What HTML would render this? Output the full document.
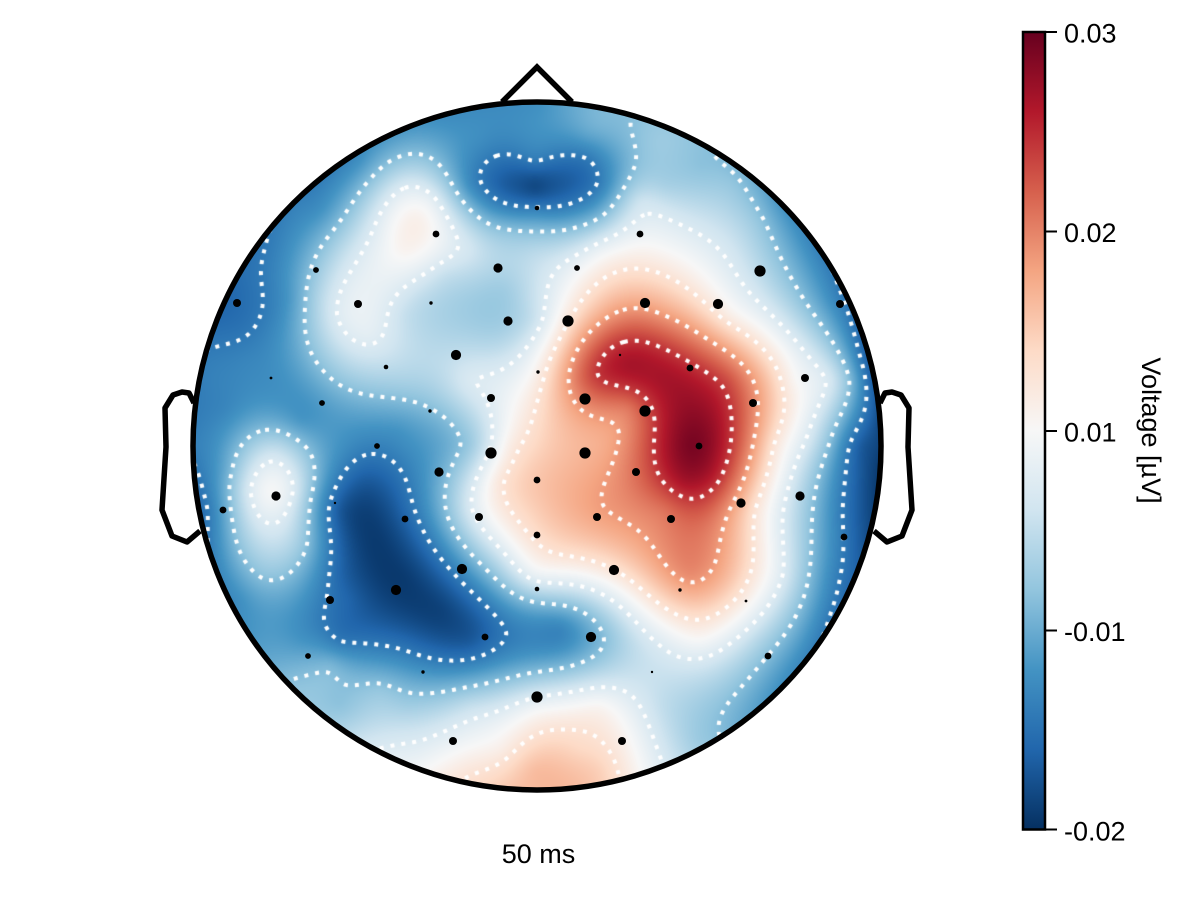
<!DOCTYPE html>
<html>
<head>
<meta charset="utf-8">
<style>
html,body{margin:0;padding:0;background:#fff;}
#wrap{position:relative;width:1200px;height:900px;overflow:hidden;background:#fff;}
#wrap svg,#wrap canvas{position:absolute;left:0;top:0;}
text{font-family:"Liberation Sans",Arial,sans-serif;fill:#000;}
</style>
</head>
<body>
<div id="wrap">
<svg width="1200" height="900" viewBox="0 0 1200 900" style="z-index:0">
  <defs>
    <filter id="bl" x="-50%" y="-50%" width="200%" height="200%"><feGaussianBlur stdDeviation="28"/></filter>
    <clipPath id="hc"><circle cx="537" cy="446" r="344"/></clipPath>
  </defs>
  <g clip-path="url(#hc)">
    <rect x="180" y="90" width="720" height="720" fill="#4a90c4"/>
    <g filter="url(#bl)">
      <ellipse cx="580" cy="450" rx="210" ry="190" fill="#e4edf2"/>
      <ellipse cx="650" cy="430" rx="120" ry="150" fill="#f4a582"/>
      <ellipse cx="675" cy="420" rx="60" ry="80" fill="#b2182b"/>
      <ellipse cx="400" cy="570" rx="60" ry="70" fill="#0b3b75"/>
      <ellipse cx="535" cy="187" rx="55" ry="20" fill="#0b3b75"/>
      <ellipse cx="410" cy="250" rx="55" ry="80" fill="#f3f3f3"/>
      <ellipse cx="275" cy="500" rx="30" ry="50" fill="#e0ecf3"/>
      <ellipse cx="537" cy="790" rx="90" ry="60" fill="#f4b599"/>
      <ellipse cx="885" cy="446" rx="30" ry="150" fill="#0b3b75"/>
    </g>
  </g>
</svg>
<canvas id="c" width="1200" height="900" style="z-index:1"></canvas>
<svg width="1200" height="900" viewBox="0 0 1200 900" style="z-index:2">
  <defs>
    <linearGradient id="cb" x1="0" y1="1" x2="0" y2="0">
      <stop offset="0" stop-color="#053061"/>
      <stop offset="0.1" stop-color="#2166ac"/>
      <stop offset="0.2" stop-color="#4393c3"/>
      <stop offset="0.3" stop-color="#92c5de"/>
      <stop offset="0.4" stop-color="#d1e5f0"/>
      <stop offset="0.5" stop-color="#f7f7f7"/>
      <stop offset="0.6" stop-color="#fddbc7"/>
      <stop offset="0.7" stop-color="#f4a582"/>
      <stop offset="0.8" stop-color="#d6604d"/>
      <stop offset="0.9" stop-color="#b2182b"/>
      <stop offset="1" stop-color="#67001f"/>
    </linearGradient>
  </defs>
  <!-- electrodes -->
  <g fill="#000">
    <circle cx="385" cy="137" r="2.1"/><circle cx="690" cy="138" r="2.3"/><circle cx="537" cy="208" r="2.3"/>
    <circle cx="436" cy="234" r="3.4"/><circle cx="640" cy="234" r="3.4"/><circle cx="316" cy="270" r="2.9"/>
    <circle cx="498" cy="268" r="4.6"/><circle cx="577" cy="268" r="2.9"/><circle cx="760" cy="271" r="5.6"/>
    <circle cx="237" cy="303" r="4"/><circle cx="358" cy="304" r="4"/><circle cx="431" cy="303" r="1.7"/>
    <circle cx="645" cy="303" r="5.1"/><circle cx="718" cy="304" r="5.1"/><circle cx="840" cy="304" r="4"/>
    <circle cx="508" cy="321" r="4.6"/><circle cx="568" cy="321" r="5.6"/><circle cx="456" cy="355" r="5.1"/>
    <circle cx="620" cy="355" r="1.2"/><circle cx="386" cy="367" r="2.3"/><circle cx="538" cy="372" r="1.7"/>
    <circle cx="690" cy="368" r="3.4"/><circle cx="271" cy="378" r="1.4"/><circle cx="805" cy="378" r="4"/>
    <circle cx="322" cy="403" r="2.9"/><circle cx="491" cy="398" r="4"/><circle cx="585" cy="399" r="5.6"/>
    <circle cx="645" cy="411" r="5.6"/><circle cx="753" cy="403" r="4"/><circle cx="430" cy="411" r="1.7"/>
    <circle cx="377" cy="446" r="2.9"/><circle cx="491" cy="453" r="5.6"/><circle cx="585" cy="453" r="5.6"/>
    <circle cx="699" cy="446" r="3.4"/><circle cx="439" cy="472" r="4.6"/><circle cx="636" cy="472" r="4"/>
    <circle cx="537" cy="480" r="3.4"/><circle cx="276" cy="496" r="4.6"/><circle cx="223" cy="510" r="3.4"/>
    <circle cx="335" cy="503" r="1.2"/><circle cx="800" cy="496" r="4.6"/><circle cx="741" cy="503" r="4.6"/>
    <circle cx="405" cy="519" r="3.4"/><circle cx="479" cy="517" r="4"/><circle cx="597" cy="517" r="4"/>
    <circle cx="671" cy="519" r="4"/><circle cx="844" cy="537" r="3.4"/><circle cx="537" cy="535" r="3.4"/>
    <circle cx="462" cy="569" r="5.1"/><circle cx="614" cy="570" r="5.1"/><circle cx="396" cy="590" r="5.1"/>
    <circle cx="330" cy="600" r="4"/><circle cx="537" cy="589" r="2.3"/><circle cx="680" cy="590" r="1.7"/>
    <circle cx="746" cy="601" r="1.4"/><circle cx="485" cy="637" r="3.4"/><circle cx="591" cy="637" r="5.1"/>
    <circle cx="308" cy="656" r="2.9"/><circle cx="768" cy="656" r="3.4"/><circle cx="423" cy="672" r="1.7"/>
    <circle cx="652" cy="672" r="1.2"/><circle cx="537" cy="697" r="5.6"/><circle cx="453" cy="741" r="4"/>
    <circle cx="622" cy="741" r="4"/>
  </g>
  <!-- head outline -->
  <g fill="none" stroke="#000" stroke-width="5.5" stroke-linejoin="round">
    <circle cx="537" cy="446" r="344"/>
    <polyline points="502,102 537,67 572,102" stroke-linejoin="miter"/>
    <polyline points="200,531 187,542 172,536 162,510 166,447 165,408 173,395 182,392 189,393 194,403"/>
    <polyline points="874,531 887,542 902,536 912,510 908,447 909,408 901,395 892,392 885,393 880,403"/>
  </g>
  <text x="538.5" y="863" font-size="27" text-anchor="middle">50 ms</text>
  <!-- colorbar -->
  <rect x="1023" y="32" width="22" height="797.5" fill="url(#cb)" stroke="#000" stroke-width="2.5"/>
  <g stroke="#000" stroke-width="2">
    <line x1="1046" y1="32" x2="1057" y2="32"/>
    <line x1="1046" y1="231.5" x2="1057" y2="231.5"/>
    <line x1="1046" y1="431" x2="1057" y2="431"/>
    <line x1="1046" y1="630.5" x2="1057" y2="630.5"/>
    <line x1="1046" y1="829.5" x2="1057" y2="829.5"/>
  </g>
  <g font-size="27">
    <text x="1064" y="42.5">0.03</text>
    <text x="1064" y="242">0.02</text>
    <text x="1064" y="441.5">0.01</text>
    <text x="1064" y="641">-0.01</text>
    <text x="1064" y="840.5">-0.02</text>
  </g>
  <text transform="translate(1142,430.5) rotate(90)" font-size="27" text-anchor="middle">Voltage [µV]</text>
</svg>
</div>
<script>
(function(){
try{
var P=[
[537,102,.19],[626,114,.28],[709,148,.29],[780,203,.2],[835,274,.14],[869,357,.07],[881,446,.04],[869,535,.05],[835,618,.12],[780,689,.19],[709,744,.31],[626,778,.55],[537,790,.66],[448,778,.55],[365,744,.41],[294,689,.3],[239,618,.19],[205,535,.13],[193,446,.16],[205,357,.15],[239,274,.12],[294,203,.16],[365,148,.19],[448,114,.18],
[470,122,.19],[535,122,.2],[600,124,.27],[480,140,.19],[587,134,.24],[660,142,.32],[700,165,.29],[587,158,.14],[535,160,.16],
[535,187,.03],[505,186,.08],[565,186,.08],[535,213,.19],[490,212,.22],
[470,185,.18],[600,185,.15],[665,185,.33],[730,185,.31],
[340,185,.2],[405,185,.42],[360,160,.19],[400,163,.31],[320,210,.19],
[430,200,.46],[417,220,.53],[380,240,.46],[450,240,.45],[370,335,.45],
[275,250,.16],[340,250,.36],[405,250,.52],[470,250,.41],[535,250,.36],[600,250,.47],[665,250,.5],[730,250,.41],[795,250,.23],[760,220,.3],[640,200,.4],[600,215,.27],[510,230,.29],
[275,315,.17],[290,300,.21],[320,300,.36],[340,315,.44],[350,290,.45],[405,315,.38],[420,300,.37],[445,275,.38],[470,315,.32],[505,290,.32],[500,330,.33],[490,350,.37],[530,300,.38],[535,320,.39],[600,315,.68],[665,315,.71],[730,315,.53],[760,300,.42],[800,300,.3],[830,300,.19],[850,300,.12],[225,300,.1],[240,330,.13],[245,360,.17],
[210,380,.16],[250,380,.18],[275,380,.19],[300,420,.2],[340,380,.3],[405,380,.34],[440,380,.36],[470,380,.43],[535,380,.53],[580,380,.78],[600,375,.87],[665,380,.92],[730,380,.82],[770,380,.63],[795,380,.5],[830,380,.42],[852,380,.27],[870,380,.1],[400,430,.2],[440,420,.27],
[692,445,.98],[695,400,.93],[642,420,.8],[650,445,.84],[618,432,.71],[628,408,.76],[630,365,.92],[615,352,.88],[715,480,.88],[685,482,.92],
[210,445,.18],[225,410,.17],[280,440,.33],[340,445,.2],[405,445,.19],[470,445,.31],[490,445,.42],[510,445,.54],[535,445,.6],[600,445,.68],[730,445,.86],[755,445,.7],[775,445,.56],[810,445,.4],[830,445,.28],[848,445,.15],[862,445,.07],
[272,492,.5],[247,490,.41],[297,490,.41],[272,455,.41],[278,530,.41],[232,500,.3],[312,500,.27],[305,545,.3],[265,575,.3],[245,545,.32],[225,470,.24],
[500,480,.56],
[210,510,.15],[340,510,.07],[405,510,.11],[470,510,.42],[535,510,.62],[600,510,.71],[665,510,.77],[730,510,.71],[755,510,.57],[783,510,.43],[812,510,.29],[843,510,.14],[868,510,.05],
[380,540,.02],[365,480,.08],[440,610,.03],[350,600,.1],
[240,600,.19],[340,575,.1],[405,575,.02],[470,575,.2],[500,560,.38],[535,575,.47],[600,575,.52],[665,575,.69],[690,575,.74],[730,575,.65],[750,575,.57],[783,575,.43],[808,575,.29],[835,575,.16],[855,575,.1],
[275,640,.22],[300,640,.2],[340,640,.13],[405,640,.11],[470,640,.07],[535,640,.17],[560,630,.16],[600,640,.27],[665,640,.45],[700,640,.5],[730,640,.44],[760,640,.35],[800,640,.22],
[330,665,.28],[340,705,.29],[380,690,.31],[405,705,.32],[470,705,.38],[535,705,.47],[600,705,.51],[665,705,.37],[730,705,.28],[700,740,.31],
[470,770,.56],[535,770,.66],[600,770,.62],[537,730,.56],[500,750,.53],[580,750,.6],[420,760,.47],[400,740,.42]
];
var n=P.length,N=n+3,S=100,LAM=0.02;
var X=new Float64Array(n),Y=new Float64Array(n);
for(var i=0;i<n;i++){X[i]=P[i][0]/S;Y[i]=P[i][1]/S;}
function U(d2){return d2>1e-12?0.5*d2*Math.log(d2):0;}
var A=[];
for(i=0;i<N;i++)A.push(new Float64Array(N+1));
for(i=0;i<n;i++){
  for(var j=0;j<n;j++){var dx=X[i]-X[j],dy=Y[i]-Y[j];A[i][j]=U(dx*dx+dy*dy);}
  A[i][i]+=LAM;
  A[i][n]=1;A[i][n+1]=X[i];A[i][n+2]=Y[i];
  A[n][i]=1;A[n+1][i]=X[i];A[n+2][i]=Y[i];
  A[i][N]=P[i][2];
}
for(var c=0;c<N;c++){
  var p=c;
  for(var r=c+1;r<N;r++)if(Math.abs(A[r][c])>Math.abs(A[p][c]))p=r;
  var t=A[c];A[c]=A[p];A[p]=t;
  var pv=A[c][c];
  for(r=0;r<N;r++){
    if(r===c)continue;
    var f=A[r][c]/pv;if(f===0)continue;
    var Ar=A[r],Ac=A[c];
    for(var k=c;k<=N;k++)Ar[k]-=f*Ac[k];
  }
}
var w=new Float64Array(N);
for(i=0;i<N;i++)w[i]=A[i][N]/A[i][i];
function F(x,y){x/=S;y/=S;var s=w[n]+w[n+1]*x+w[n+2]*y;for(var i=0;i<n;i++){var dx=x-X[i],dy=y-Y[i];s+=w[i]*U(dx*dx+dy*dy);}return s;}

var CX=537,CY=446,R=344;
var s=2,x0=189,y0=98,W=351,H=351;
var V=new Float64Array(W*H);
for(j=0;j<H;j++)for(i=0;i<W;i++){
  var x=x0+i*s,y=y0+j*s,ddx=x-CX,ddy=y-CY;
  if(ddx*ddx+ddy*ddy>362*362){V[j*W+i]=0.3;continue;}
  V[j*W+i]=F(x,y);
}
var stops=[[5,48,97],[33,102,172],[67,147,195],[146,197,222],[209,229,240],[247,247,247],[253,219,199],[244,165,130],[214,96,77],[178,24,43],[103,0,31]];
function cmap(v){
  v=Math.max(0,Math.min(1,v))*10;var i=Math.min(9,Math.floor(v)),t=v-i,a=stops[i],b=stops[i+1];
  return [a[0]+(b[0]-a[0])*t,a[1]+(b[1]-a[1])*t,a[2]+(b[2]-a[2])*t];
}
var cv=document.getElementById('c'),ctx=cv.getContext('2d');
var bx=190,by=99,bw=695,bh=695;
var img=ctx.createImageData(bw,bh),d=img.data;
for(var py=0;py<bh;py++)for(var px=0;px<bw;px++){
  var xx=bx+px+0.5,yy=by+py+0.5;
  var dd=Math.sqrt((xx-CX)*(xx-CX)+(yy-CY)*(yy-CY));
  var al=R+0.5-dd;if(al<=0)continue;
  var gx=(xx-x0)/s,gy=(yy-y0)/s,ii=Math.floor(gx),jj=Math.floor(gy),fx=gx-ii,fy=gy-jj;
  var o0=jj*W+ii;
  var v=(V[o0]*(1-fx)+V[o0+1]*fx)*(1-fy)+(V[o0+W]*(1-fx)+V[o0+W+1]*fx)*fy;
  var col=cmap(v),o=(py*bw+px)*4;
  d[o]=col[0];d[o+1]=col[1];d[o+2]=col[2];d[o+3]=Math.min(1,al)*255;
}
ctx.putImageData(img,bx,by);

function contour(L){
  var segs=[],pt=new Map();
  function hk(i,j){var k=(j*W+i)*2;if(!pt.has(k)){var a=V[j*W+i],b=V[j*W+i+1],t=(L-a)/(b-a);pt.set(k,[x0+(i+t)*s,y0+j*s]);}return k;}
  function vk(i,j){var k=(j*W+i)*2+1;if(!pt.has(k)){var a=V[j*W+i],b=V[(j+1)*W+i],t=(L-a)/(b-a);pt.set(k,[x0+i*s,y0+(j+t)*s]);}return k;}
  for(var j=0;j<H-1;j++)for(var i=0;i<W-1;i++){
    var cx=x0+(i+0.5)*s-CX,cy=y0+(j+0.5)*s-CY;
    if(cx*cx+cy*cy>348*348)continue;
    var a=V[j*W+i],b=V[j*W+i+1],c=V[(j+1)*W+i+1],e=V[(j+1)*W+i];
    var idx=(a>L?8:0)|(b>L?4:0)|(c>L?2:0)|(e>L?1:0);
    if(idx===0||idx===15)continue;
    var m;
    switch(idx){
      case 1:case 14:segs.push([vk(i,j),hk(i,j+1)]);break;
      case 2:case 13:segs.push([hk(i,j+1),vk(i+1,j)]);break;
      case 3:case 12:segs.push([vk(i,j),vk(i+1,j)]);break;
      case 4:case 11:segs.push([hk(i,j),vk(i+1,j)]);break;
      case 6:case 9:segs.push([hk(i,j),hk(i,j+1)]);break;
      case 7:case 8:segs.push([vk(i,j),hk(i,j)]);break;
      case 5:m=(a+b+c+e)/4;
        if(m>L){segs.push([vk(i,j),hk(i,j)]);segs.push([hk(i,j+1),vk(i+1,j)]);}
        else{segs.push([hk(i,j),vk(i+1,j)]);segs.push([vk(i,j),hk(i,j+1)]);}
        break;
      case 10:m=(a+b+c+e)/4;
        if(m>L){segs.push([hk(i,j),vk(i+1,j)]);segs.push([vk(i,j),hk(i,j+1)]);}
        else{segs.push([vk(i,j),hk(i,j)]);segs.push([hk(i,j+1),vk(i+1,j)]);}
        break;
    }
  }
  var adj=new Map();
  for(var q=0;q<segs.length;q++){for(var z=0;z<2;z++){var kk=segs[q][z];var l=adj.get(kk);if(!l){l=[];adj.set(kk,l);}l.push(q);}}
  var used=new Uint8Array(segs.length),lines=[];
  for(var st=0;st<segs.length;st++){
    if(used[st])continue;used[st]=1;
    var chain=[segs[st][0],segs[st][1]];
    for(var dir=0;dir<2;dir++){
      while(true){
        var end=chain[chain.length-1],lst=adj.get(end),nx=-1;
        for(var u=0;u<lst.length;u++){if(!used[lst[u]]){nx=lst[u];break;}}
        if(nx<0)break;
        used[nx]=1;var sg=segs[nx];chain.push(sg[0]===end?sg[1]:sg[0]);
      }
      chain.reverse();
    }
    lines.push(chain.map(function(k){return pt.get(k);}));
  }
  return lines;
}
ctx.save();
ctx.beginPath();ctx.arc(CX,CY,R,0,Math.PI*2);ctx.clip();
ctx.strokeStyle='#ffffff';ctx.lineWidth=4;ctx.lineCap='butt';ctx.lineJoin='round';
ctx.setLineDash([4,7]);
for(var lv=1;lv<=6;lv++){
  var ls=contour(lv/7);
  for(var a2=0;a2<ls.length;a2++){
    var pl=ls[a2];if(pl.length<3)continue;
    ctx.beginPath();ctx.moveTo(pl[0][0],pl[0][1]);
    for(var b2=1;b2<pl.length;b2++)ctx.lineTo(pl[b2][0],pl[b2][1]);
    ctx.stroke();
  }
}
ctx.restore();
}catch(err){}
})();
</script>
</body>
</html>
